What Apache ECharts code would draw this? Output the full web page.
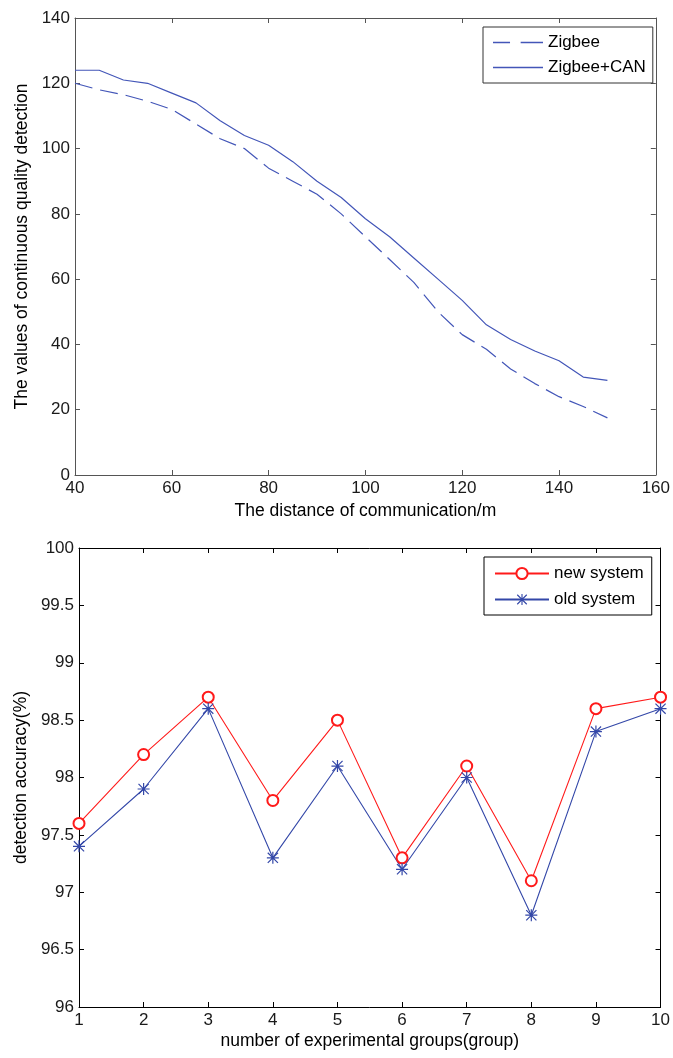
<!DOCTYPE html>
<html>
<head>
<meta charset="utf-8">
<script src="https://cdn.jsdelivr.net/npm/echarts@6/dist/echarts.min.js"></script>
<style>
html,body{margin:0;padding:0;background:#fff;}
#chart{width:673px;height:1058px;}
</style>
</head>
<body>
<div id="chart"></div>
<script>
// ---- Top chart data ----
const distance = [40,45,50,55,60,65,70,75,80,85,90,95,100,105,110,115,120,125,130,135,140,145,150];
const zigbee = [120,118,116.5,114.5,112,107.5,103,100,94,90,86,80,73,66,59,50,43,38.5,32.5,28,24,21,17.5];
const zigbeeCan = [124,124,121,120,117,114,108.5,104,101,96,90,85,78.5,73,66.5,60,53.5,46,41.5,38,35,30,29];

// ---- Bottom chart data ----
const groups = [1,2,3,4,5,6,7,8,9,10];
const newSystem = [97.6,98.2,98.7,97.8,98.5,97.3,98.1,97.1,98.6,98.7];
const oldSystem = [97.4,97.9,98.6,97.3,98.1,97.2,98.0,96.8,98.4,98.6];

const FONT = 'Liberation Sans, Arial, sans-serif';
const BLUE = '#4356b8';
const ASTERISK = 'path://M9 0 H11 V20 H9 Z M0 9 H20 V11 H0 Z M2.2 0.8 L19.2 17.8 L17.8 19.2 L0.8 2.2 Z M17.8 0.8 L19.2 2.2 L2.2 19.2 L0.8 17.8 Z';
const ICON_DASH = 'path://M0 0 H16 V1 H0 Z M26 0 H47 V1 H26 Z';
const ICON_SOLID = 'path://M0 0 H47 V1 H0 Z';

function zip(xs, ys){ return xs.map((x,i)=>[x, ys[i]]); }

function mkAxis(base, color){
  return Object.assign({
    type:'value',
    axisLine:{show:true, onZero:false, lineStyle:{color:color, width:1}},
    axisTick:{show:true, inside:true, length:5, lineStyle:{color:color}},
    splitLine:{show:false},
    axisLabel:{fontFamily:FONT, fontSize:17, color:'#1a1a1a'}
  }, base);
}

const chart = echarts.init(document.getElementById('chart'), null, {renderer:'canvas'});
const option = {
  backgroundColor:'#fff',
  animation:false,
  grid:[
    {left:75, top:18, width:582, height:457},
    {left:79, top:548, width:584, height:459}
  ],
  legend:[
    {
      data:[{name:'Zigbee', icon:ICON_DASH},{name:'Zigbee+CAN', icon:ICON_SOLID}],
      orient:'vertical', left:483, top:27,
      padding:[7,7,7,10], itemGap:8, itemWidth:50, itemHeight:1.3,
      symbolKeepAspect:false,
      borderColor:'#333', borderWidth:1, borderRadius:0,
      textStyle:{fontFamily:FONT, fontSize:17, color:'#000'}
    },
    {
      data:['new system','old system'],
      orient:'vertical', left:484, top:557,
      padding:[8,8,7,10], itemGap:9, itemWidth:54, itemHeight:14,
      borderColor:'#000', borderWidth:1, borderRadius:0,
      textStyle:{fontFamily:FONT, fontSize:17, color:'#000'}
    }
  ],
  xAxis:[
    mkAxis({gridIndex:0, min:40, max:160, interval:20, position:'bottom',
      name:'The distance of communication/m', nameLocation:'middle', nameGap:27,
      nameTextStyle:{fontFamily:FONT, fontSize:17.5, color:'#000'},
      axisLabel:{fontFamily:FONT, fontSize:17, color:'#1a1a1a', margin:5}}, '#555'),
    mkAxis({gridIndex:0, min:40, max:160, interval:20, position:'top',
      axisLabel:{show:false}}, '#555'),
    mkAxis({gridIndex:1, min:1, max:10, interval:1, position:'bottom',
      name:'number of experimental groups(group)', nameLocation:'middle', nameGap:25,
      nameTextStyle:{fontFamily:FONT, fontSize:17.5, color:'#000'},
      axisLabel:{fontFamily:FONT, fontSize:17, color:'#1a1a1a', margin:5}}, '#000'),
    mkAxis({gridIndex:1, min:1, max:10, interval:1, position:'top',
      axisLabel:{show:false}}, '#000')
  ],
  yAxis:[
    mkAxis({gridIndex:0, min:0, max:140, interval:20, position:'left',
      name:'The values of continuous quality detection', nameLocation:'middle', nameGap:42,
      nameTextStyle:{fontFamily:FONT, fontSize:17.5, color:'#000'},
      axisLabel:{fontFamily:FONT, fontSize:17, color:'#1a1a1a', margin:5}}, '#555'),
    mkAxis({gridIndex:0, min:0, max:140, interval:20, position:'right',
      axisLabel:{show:false}}, '#555'),
    mkAxis({gridIndex:1, min:96, max:100, interval:0.5, position:'left',
      name:'detection accuracy(%)', nameLocation:'middle', nameGap:45,
      nameTextStyle:{fontFamily:FONT, fontSize:17.5, color:'#000'},
      axisLabel:{fontFamily:FONT, fontSize:17, color:'#1a1a1a', margin:5}}, '#000'),
    mkAxis({gridIndex:1, min:96, max:100, interval:0.5, position:'right',
      axisLabel:{show:false}}, '#000')
  ],
  series:[
    {
      name:'Zigbee', type:'line', xAxisIndex:0, yAxisIndex:0,
      data:zip(distance, zigbee), showSymbol:false, symbol:'none',
      lineStyle:{color:BLUE, width:1.2, type:[18,8]},
      itemStyle:{color:BLUE}
    },
    {
      name:'Zigbee+CAN', type:'line', xAxisIndex:0, yAxisIndex:0,
      data:zip(distance, zigbeeCan), showSymbol:false, symbol:'none',
      lineStyle:{color:BLUE, width:1.2, type:'solid'},
      itemStyle:{color:BLUE}
    },
    {
      name:'new system', type:'line', xAxisIndex:2, yAxisIndex:2,
      data:zip(groups, newSystem), symbol:'emptyCircle', symbolSize:11,
      lineStyle:{color:'#ff1a1a', width:1.1},
      itemStyle:{color:'#ff1a1a', borderWidth:1}
    },
    {
      name:'old system', type:'line', xAxisIndex:2, yAxisIndex:2,
      data:zip(groups, oldSystem), symbol:ASTERISK, symbolSize:12,
      lineStyle:{color:'#3347a8', width:1.1},
      itemStyle:{color:'#3347a8'}
    }
  ]
};
chart.setOption(option);
</script>
</body>
</html>
